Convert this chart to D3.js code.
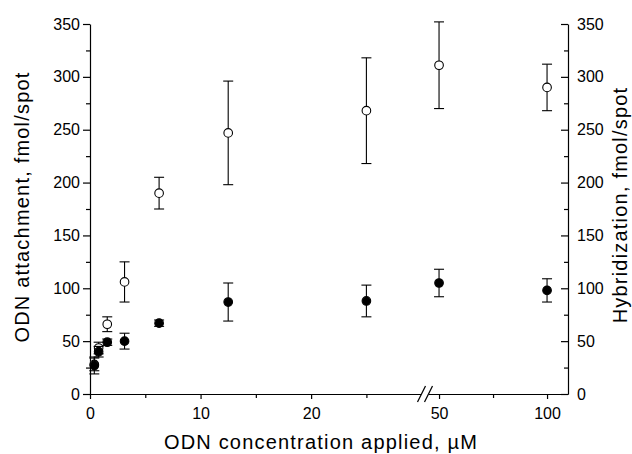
<!DOCTYPE html>
<html>
<head>
<meta charset="utf-8">
<script src="https://cdn.jsdelivr.net/npm/d3@7"></script>
<style>
  body { margin: 0; background: #fff; }
  svg { font-family: "Liberation Sans", Arial, sans-serif; }
  .axis path, .axis line { stroke: #000; stroke-width: 1.2; }
  .axis text { font-size: 16px; fill: #000; }
  .title { font-size: 20px; letter-spacing: 1.2px; fill: #000; }
</style>
</head>
<body>
<div id="chart"></div>
<script>
// ODN concentration applied, uM (serial dilution)
var conc = [0.39, 0.78, 1.56, 3.125, 6.25, 12.5, 25, 50, 100];
// open circles - ODN attachment
var attach = [28, 43.5, 66, 106, 190, 247, 268, 311, 290];
var attachErr = [6, 5.5, 7, 19, 15, 49, 50, 41, 22];
// filled circles - hybridization
var hybrid = [27, 40, 49, 50, 67, 87, 88, 105, 98];
var hybridErr = [8, 5, 3, 7.5, 3, 18, 15, 13, 11];

var xTicks = [0, 10, 20, 50, 100],
    xMinor = [5, 15, 25, 75],
    yTicks = d3.range(0, 351, 50),
    yMinor = d3.range(25, 350, 50);

var width = 632, height = 454;
var margin = {left: 90, right: 568, top: 24, bottom: 394};

// broken x axis: 0..30.3 then 43.5..109.7
var xBreak = 425;
var x = d3.scaleLinear()
    .domain([0, 30.3, 43.5, 109.7])
    .range([margin.left, xBreak, xBreak, margin.right]);

var y = d3.scaleLinear().domain([0, 350]).range([margin.bottom, margin.top]);

var svg = d3.select("#chart").append("svg")
    .attr("width", width)
    .attr("height", height);

// x axis
svg.append("g")
    .attr("class", "axis")
    .attr("transform", "translate(0," + margin.bottom + ")")
    .call(d3.axisBottom(x).tickValues(xTicks).tickSizeInner(5).tickSizeOuter(0).tickPadding(9));
svg.append("g")
    .attr("class", "axis")
    .attr("transform", "translate(0," + margin.bottom + ")")
    .call(d3.axisBottom(x).tickValues(xMinor).tickSizeInner(4).tickSizeOuter(0).tickFormat(""))
    .select(".domain").remove();

// break marks //
svg.append("rect")
    .attr("x", xBreak - 4).attr("y", margin.bottom - 3)
    .attr("width", 8).attr("height", 6)
    .attr("fill", "#fff");
[-3.5, 3.5].forEach(function(dx) {
  svg.append("line")
      .attr("x1", xBreak + dx - 4).attr("y1", margin.bottom + 8)
      .attr("x2", xBreak + dx + 4).attr("y2", margin.bottom - 8)
      .attr("stroke", "#000").attr("stroke-width", 1.2);
});

// left y axis
svg.append("g")
    .attr("class", "axis")
    .attr("transform", "translate(" + margin.left + ",0)")
    .call(d3.axisLeft(y).tickValues(yTicks).tickSizeInner(7).tickSizeOuter(0).tickPadding(3));
svg.append("g")
    .attr("class", "axis")
    .attr("transform", "translate(" + margin.left + ",0)")
    .call(d3.axisLeft(y).tickValues(yMinor).tickSizeInner(4).tickSizeOuter(0).tickFormat(""))
    .select(".domain").remove();

// right y axis, ticks pointing inward
svg.append("g")
    .attr("class", "axis")
    .attr("transform", "translate(" + margin.right + ",0)")
    .call(d3.axisRight(y).tickValues(yTicks).tickSizeInner(-7).tickSizeOuter(0).tickPadding(9));
svg.append("g")
    .attr("class", "axis")
    .attr("transform", "translate(" + margin.right + ",0)")
    .call(d3.axisRight(y).tickValues(yMinor).tickSizeInner(-4).tickSizeOuter(0).tickFormat(""))
    .select(".domain").remove();

// axis titles
svg.append("text")
    .attr("class", "title")
    .attr("x", 321).attr("y", 449)
    .attr("text-anchor", "middle")
    .text("ODN concentration applied, \u00b5M");

svg.append("text")
    .attr("class", "title")
    .attr("transform", "translate(29,207) rotate(-90)")
    .attr("text-anchor", "middle")
    .text("ODN attachment, fmol/spot");

svg.append("text")
    .attr("class", "title")
    .attr("transform", "translate(627,205) rotate(-90)")
    .attr("text-anchor", "middle")
    .text("Hybridization, fmol/spot");

// points with error bars
function series(vals, errs, fill) {
  var g = svg.append("g");
  var pts = conc.map(function(c, i) { return {c: c, v: vals[i], e: errs[i]}; });

  var bars = g.selectAll(".bar").data(pts).enter().append("g")
      .attr("stroke", "#000").attr("stroke-width", 1.1);
  bars.append("line")
      .attr("x1", function(d) { return x(d.c); })
      .attr("x2", function(d) { return x(d.c); })
      .attr("y1", function(d) { return y(d.v - d.e); })
      .attr("y2", function(d) { return y(d.v + d.e); });
  [-1, 1].forEach(function(s) {
    bars.append("line")
        .attr("x1", function(d) { return x(d.c) - 5; })
        .attr("x2", function(d) { return x(d.c) + 5; })
        .attr("y1", function(d) { return y(d.v + s * d.e); })
        .attr("y2", function(d) { return y(d.v + s * d.e); });
  });

  g.selectAll(".dot").data(pts).enter().append("circle")
      .attr("cx", function(d) { return x(d.c); })
      .attr("cy", function(d) { return y(d.v); })
      .attr("r", 4.3)
      .attr("fill", fill)
      .attr("stroke", "#000")
      .attr("stroke-width", 1.1);
}

series(attach, attachErr, "#fff");
series(hybrid, hybridErr, "#000");
</script>
</body>
</html>
